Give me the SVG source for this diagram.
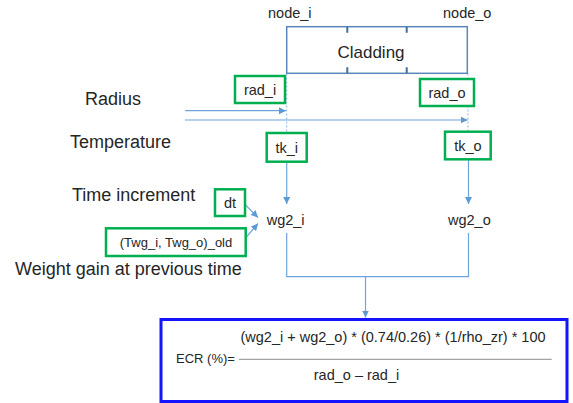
<svg xmlns="http://www.w3.org/2000/svg" width="573" height="403" viewBox="0 0 573 403">
<style>
text{font-family:"Liberation Sans",Arial,sans-serif;fill:#262626}
.lbl{font-size:18px}
.sm{font-size:14.5px}
.mid{text-anchor:middle}
.gbox{fill:#fff;stroke:#00b050;stroke-width:2.5}
.conn{fill:none;stroke:#6fa3dc;stroke-width:1.2}
.dot{fill:none;stroke:#8fb8e4;stroke-width:1;stroke-dasharray:2 2}
</style>
<defs>
<marker id="ah" markerUnits="userSpaceOnUse" markerWidth="8" markerHeight="8" refX="7" refY="3.5" orient="auto">
<path d="M0,0 L7,3.5 L0,7 z" fill="#5b9bd5"/>
</marker>
</defs>
<rect width="573" height="403" fill="#fff"/>

<g id="labels-left">
<text class="lbl" x="85" y="105">Radius</text>
<text class="lbl" x="70" y="148">Temperature</text>
<text class="lbl" x="72" y="201">Time increment</text>
<text class="lbl" x="15" y="275">Weight gain at previous time</text>
</g>

<g id="connectors">
<path class="dot" d="M286.7,73.5 V133 M468,73.5 V131.7"/>
<path class="conn" d="M185,110.7 H286" marker-end="url(#ah)"/>
<path class="conn" d="M185,120 H467.7" marker-end="url(#ah)"/>
<path class="conn" d="M286.7,161.7 V204" marker-end="url(#ah)"/>
<path class="conn" d="M468.5,159.3 V204" marker-end="url(#ah)"/>
<path class="conn" d="M245.5,205 L258,217.5" marker-end="url(#ah)"/>
<path class="conn" d="M245.5,238 L258,223.5" marker-end="url(#ah)"/>
<path class="conn" d="M286.7,233 V276.7 H468.5 V233"/>
<path class="conn" d="M365.5,276.7 V317.5" marker-end="url(#ah)"/>
</g>

<g id="cladding">
<text class="sm" x="268" y="18">node_i</text>
<text class="sm" x="443" y="18">node_o</text>
<rect x="286.7" y="26.7" width="180.6" height="46.6" fill="#fff" stroke="#5a86ba" stroke-width="1.5"/>
<path d="M347.3,26.7 v6 M406.7,26.7 v6 M347.3,73.3 v-6 M406.7,73.3 v-6" stroke="#41719c" stroke-width="2"/>
<text class="mid" x="371" y="58" font-size="17">Cladding</text>
</g>

<g id="rad_i"><rect class="gbox" x="235" y="76" width="50" height="27"/><text class="sm mid" x="260" y="95">rad_i</text></g>
<g id="rad_o"><rect class="gbox" x="420" y="79" width="54" height="27"/><text class="sm mid" x="447" y="98">rad_o</text></g>
<g id="tk_i"><rect class="gbox" x="266.7" y="133" width="40" height="28.7"/><text class="sm mid" x="286.7" y="153">tk_i</text></g>
<g id="tk_o"><rect class="gbox" x="445" y="131.7" width="45.7" height="27.6"/><text class="sm mid" x="468" y="151">tk_o</text></g>
<g id="dt"><rect class="gbox" x="215" y="189.3" width="30" height="26.7"/><text class="sm mid" x="230" y="208">dt</text></g>
<g id="twg_old"><rect class="gbox" x="106" y="228.3" width="139.7" height="27.7"/><text class="mid" x="176" y="247" font-size="13">(Twg_i, Twg_o)_old</text></g>
<g id="wg2_i"><text class="sm" x="266.7" y="225">wg2_i</text></g>
<g id="wg2_o"><text class="sm" x="448" y="225">wg2_o</text></g>

<g id="ecr">
<rect x="161" y="319.5" width="406" height="82" fill="#fff" stroke="#1414ff" stroke-width="3"/>
<text x="176" y="363" font-size="13">ECR (%)=</text>
<text class="sm mid" x="393" y="342">(wg2_i + wg2_o) * (0.74/0.26) * (1/rho_zr) * 100</text>
<line x1="239" y1="359.3" x2="551.7" y2="359.3" stroke="#8c8c8c" stroke-width="1"/>
<text class="sm mid" x="356.5" y="380">rad_o – rad_i</text>
</g>
</svg>
